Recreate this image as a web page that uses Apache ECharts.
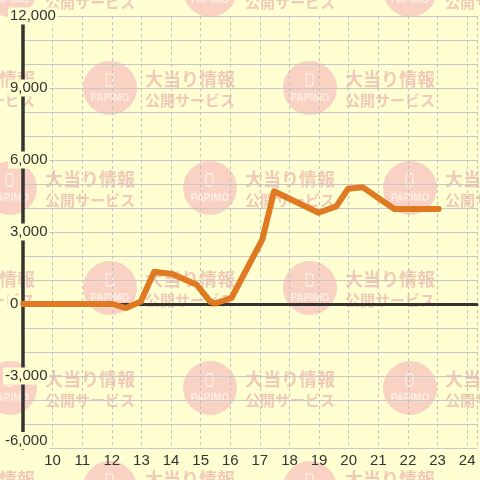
<!DOCTYPE html>
<html><head><meta charset="utf-8">
<script src="https://cdn.jsdelivr.net/npm/echarts@6/dist/echarts.min.js"></script>
<style>html,body{margin:0;padding:0;background:#FFFFD2}#c{width:480px;height:480px}</style>
</head><body><div id="c"></div>
<script>
// Data (hour of day, value)
const hours  = [9, 12.02, 12.48, 12.98, 13.43, 14.04, 14.87, 15.32, 15.48, 16.04, 17.08, 17.48, 18.98, 19.58, 19.98, 20.48, 21.54, 23.04];
const values = [0, 0, -170, 100, 1340, 1250, 800, 100, 30, 250, 2680, 4700, 3800, 4070, 4800, 4860, 3960, 3960];
const xMin = 9, xMax = 24 + 1/3;
const yMin = -6000, yMax = 12000, yStep = 3000;
const wmLine1 = '大当り情報';
const wmLine2 = '公開サービス';
const wmBrand = 'PAPIMO';

const BG = '#FFFFD2';
const FONT = '"Liberation Sans", Arial, sans-serif';
const fmt = v => v.toLocaleString('en-US');

// watermark pattern
const marks = [];
const rows = [-10, 88, 188, 288, 388, 488];
rows.forEach((cy, i) => {
  const xs = (i % 2 === 0) ? [10, 210, 410] : [-90, 110, 310];
  xs.forEach(cx => {
    marks.push({type:'circle', z:-10, silent:true, shape:{cx:cx, cy:cy, r:27}, style:{fill:'#F9D2C4'}});
    marks.push({type:'rect', z:-9, silent:true, shape:{x:cx-4, y:cy-14, width:7, height:12, r:1.5}, style:{fill:null, stroke:'#FDEEE2', lineWidth:1.3}});
    marks.push({type:'text', z:-9, silent:true, x:cx, y:cy+10, style:{text:wmBrand, fill:'#FDEEE2', font:'bold 10px "Liberation Sans", Arial', align:'center', verticalAlign:'middle'}});
    marks.push({type:'text', z:-9, silent:true, x:cx+35, y:cy-9, style:{text:wmLine1, fill:'#F1C9B8', font:'bold 18px "Noto Sans CJK JP"', align:'left', verticalAlign:'middle'}});
    marks.push({type:'text', z:-9, silent:true, x:cx+35, y:cy+12, style:{text:wmLine2, fill:'#F1C9B8', font:'bold 15px "Noto Sans CJK JP"', align:'left', verticalAlign:'middle'}});
  });
});

const labelRich = {a:{color:'#333', fontSize:15, fontFamily:FONT, backgroundColor:BG, padding:[1,2], lineHeight:15}};
function labelAxis(interval, margin, test){
  return {type:'value', min:yMin, max:yMax, interval:interval, position:'left', z:5,
    axisLine:{show:false, onZero:false}, axisTick:{show:false}, splitLine:{show:false},
    axisLabel:{align:'left', margin:margin, verticalAlignMinLabel:'bottom',
      formatter: v => test(v) ? '{a|' + fmt(v) + '}' : '', rich:labelRich}};
}

const chart = echarts.init(document.getElementById('c'), null, {renderer:'canvas'});
chart.setOption({
  backgroundColor: BG,
  animation: false,
  graphic: {elements: marks},
  grid: {left:20, right:0, top:16, bottom:32, containLabel:false},
  xAxis: [
    {type:'value', min:xMin, max:xMax, interval:1, position:'bottom',
     axisLine:{show:false}, axisTick:{show:false},
     axisLabel:{color:'#333', fontSize:15, fontFamily:FONT, margin:5,
       formatter: v => (Number.isInteger(v) && v > xMin) ? String(v) : ''},
     splitLine:{show:true, lineStyle:{color:'#C0C0C0', type:[3,3], width:1}}},
    {type:'value', min:xMin, max:xMax, interval:1, position:'top',
     axisLine:{show:true, onZero:true, onZeroAxisIndex:0, lineStyle:{color:'#333', width:3}},
     axisTick:{show:false}, axisLabel:{show:false}, splitLine:{show:false}}
  ],
  yAxis: [
    {type:'value', min:yMin, max:yMax, interval:yStep, position:'left',
     axisLine:{show:true, onZero:false, lineStyle:{color:'#333', width:3.5}},
     axisTick:{show:false}, axisLabel:{show:false},
     splitLine:{show:true, lineStyle:{color:'#C8C8C8', width:1}},
     minorTick:{show:false, splitNumber:3},
     minorSplitLine:{show:true, lineStyle:{color:'#C8C8C8', width:1}}},
    labelAxis(yStep, 15, v => v >= 0),
    labelAxis(yStep, 20, v => v < 0)
  ],
  series: [{
    type:'line', xAxisIndex:0, yAxisIndex:0, z:3,
    data: hours.map((h, i) => [h, values[i]]),
    symbol:'none', showSymbol:false, smooth:false,
    lineStyle:{color:'#E07A22', width:6, cap:'round', join:'round'}
  }]
});
</script>
</body></html>
